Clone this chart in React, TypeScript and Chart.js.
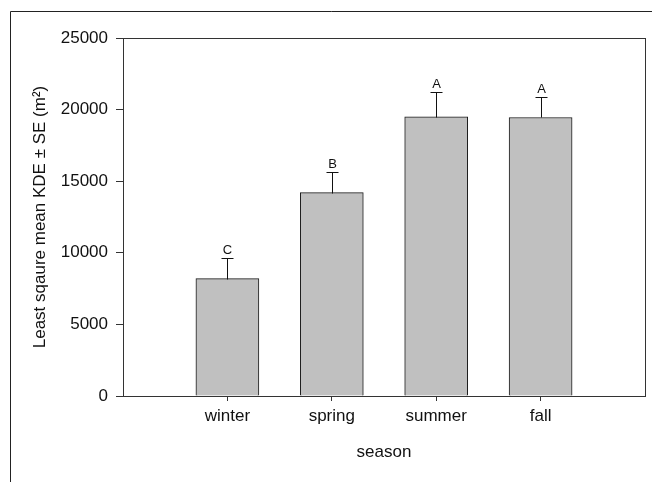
import React, { useEffect, useRef } from "react";
import { Chart, registerables } from "chart.js";

Chart.register(...registerables);

const categories = ["winter", "spring", "summer", "fall"];
const means = [8200, 14200, 19500, 19450];
const standardErrors = [1450, 1450, 1700, 1400];
const groupLetters = ["C", "B", "A", "A"];
const yTicks = [0, 5000, 10000, 15000, 20000, 25000];

const FONT = "'Liberation Sans', Arial, sans-serif";

export default function App() {
  const ref = useRef<HTMLCanvasElement | null>(null);

  useEffect(() => {
    if (!ref.current) return;
    const labels = ["", ...categories, ""];
    const values = [null, ...means, null];

    const errorPlugin = {
      id: "errorBars",
      afterDatasetsDraw(chart: any) {
        const ctx = chart.ctx;
        const meta = chart.getDatasetMeta(0);
        const y = chart.scales.y;
        ctx.save();
        ctx.strokeStyle = "#111";
        ctx.lineWidth = 1;
        categories.forEach((_, i) => {
          const el = meta.data[i + 1];
          if (!el) return;
          const x = Math.round(el.x) + 0.5;
          const yTop = Math.round(y.getPixelForValue(means[i])) + 0.5;
          const yErr = Math.round(y.getPixelForValue(means[i] + standardErrors[i])) + 0.5;
          ctx.beginPath();
          ctx.moveTo(x, yTop);
          ctx.lineTo(x, yErr);
          ctx.moveTo(x - 6, yErr);
          ctx.lineTo(x + 6, yErr);
          ctx.stroke();
          ctx.fillStyle = "#111";
          ctx.font = `13px ${FONT}`;
          ctx.textAlign = "center";
          ctx.textBaseline = "alphabetic";
          ctx.fillText(groupLetters[i], x, yErr - 5);
        });
        ctx.restore();
      },
      afterDraw(chart: any) {
        const ctx = chart.ctx;
        const a = chart.chartArea;
        ctx.save();
        ctx.strokeStyle = "#333";
        ctx.lineWidth = 1;
        ctx.strokeRect(Math.round(a.left) + 0.5, Math.round(a.top) + 0.5, Math.round(a.right - a.left), Math.round(a.bottom - a.top));
        ctx.strokeStyle = "#222";
        ctx.beginPath();
        ctx.moveTo(10.5, 482);
        ctx.lineTo(10.5, 11.5);
        ctx.lineTo(652, 11.5);
        ctx.stroke();
        ctx.restore();
      },
    };

    const chart = new Chart(ref.current, {
      type: "bar",
      data: {
        labels,
        datasets: [
          {
            data: values as any,
            backgroundColor: "#c0c0c0",
            borderColor: "#1a1a1a",
            borderWidth: 1,
            barThickness: 63,
          },
        ],
      },
      options: {
        responsive: false,
        animation: false,
        layout: { padding: { left: 0, top: 38, right: 7, bottom: 0 } },
        plugins: { legend: { display: false }, tooltip: { enabled: false } },
        scales: {
          x: {
            type: "category",
            offset: false,
            afterFit(scale: any) {
              scale.height = 86;
            },
            grid: {
              offset: false,
              drawOnChartArea: false,
              drawTicks: true,
              tickLength: 5,
              color: (c: any) => (c.index === 0 || c.index === 5 ? "rgba(0,0,0,0)" : "#333"),
            },
            border: { display: true, color: "#333" },
            ticks: {
              color: "#111",
              font: { family: FONT, size: 17 },
              padding: 5,
              maxRotation: 0,
              autoSkip: false,
            },
            title: {
              display: true,
              text: "season",
              color: "#111",
              font: { family: FONT, size: 17 },
              padding: { top: 0, bottom: 19 },
            },
          },
          y: {
            min: 0,
            max: 25000,
            afterFit(scale: any) {
              scale.width = 123;
            },
            afterBuildTicks(scale: any) {
              scale.ticks = yTicks.map((v) => ({ value: v }));
            },
            grid: {
              drawOnChartArea: false,
              drawTicks: true,
              tickLength: 7,
              color: "#333",
            },
            border: { display: true, color: "#333" },
            ticks: {
              color: "#111",
              font: { family: FONT, size: 17 },
              padding: 8,
              callback: (v: any) => String(v),
            },
            title: {
              display: true,
              text: "Least sqaure mean KDE ± SE (m²)",
              color: "#111",
              font: { family: FONT, size: 17 },
              padding: { top: 30, bottom: 0 },
            },
          },
        },
      },
      plugins: [errorPlugin],
    });
    return () => chart.destroy();
  }, []);

  return (
    <div style={{ position: "fixed", left: 0, top: 0, width: 652, height: 482, background: "#fff" }}>
      <canvas ref={ref} width={652} height={482} style={{ display: "block" }} />
    </div>
  );
}
